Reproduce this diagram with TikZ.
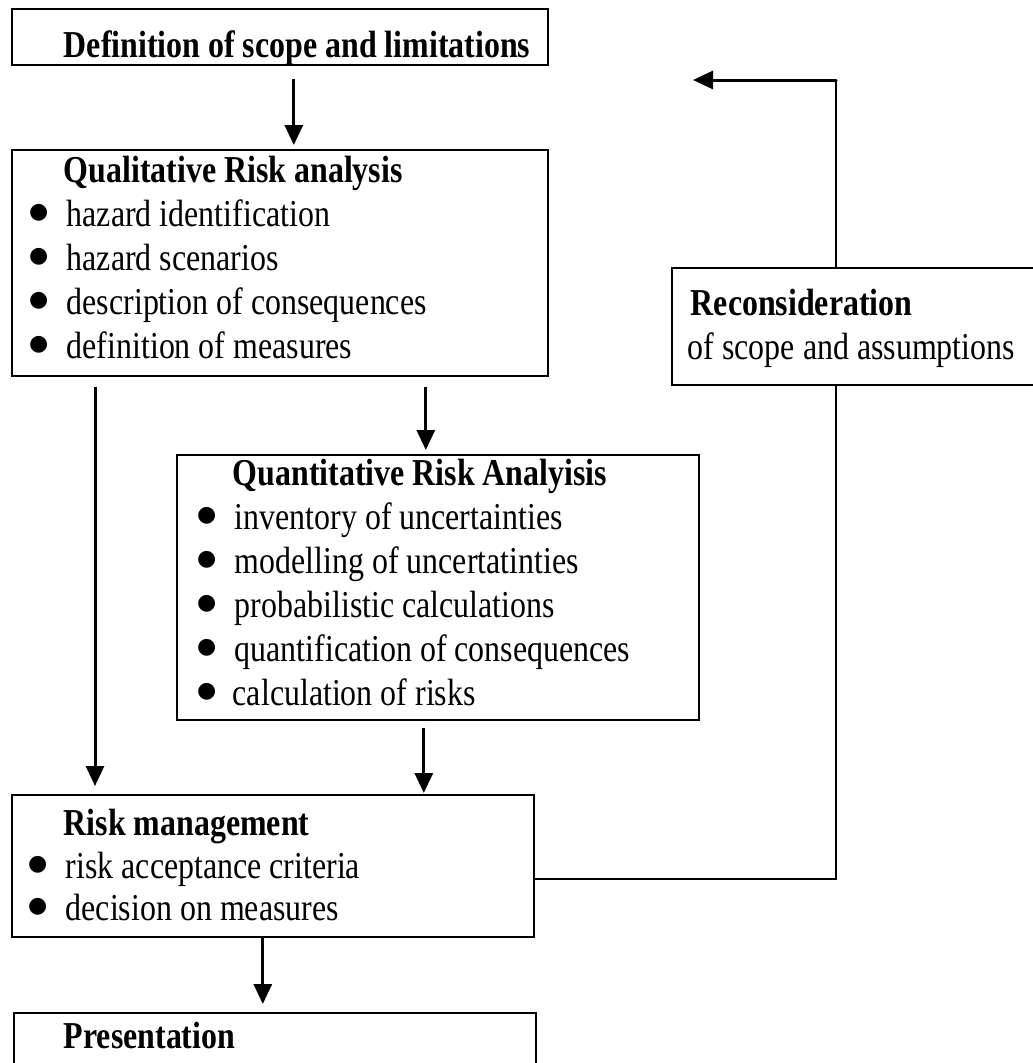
\documentclass[tikz,border=0pt]{standalone}
\usepackage{fontspec}
\setmainfont{Liberation Serif}[FakeStretch=0.84]
\newfontfamily\bulfont{DejaVu Sans}
\usetikzlibrary{arrows.meta,calc,positioning}
\newcommand{\boxfont}{\fontsize{38}{44}\selectfont}
\newcommand{\bul}{\makebox[0pt]{\raisebox{8pt}{\fontsize{22}{22}\bulfont ●}}}
\newcommand{\itm}[3]{\hspace*{#1}\bul\hspace*{\dimexpr#2-#1\relax}#3}
\tikzset{
	box/.style={draw,line width=1.6pt,anchor=north west,inner sep=0pt,align=left,
		execute at begin node={\spaceskip 8pt\relax}},
	arr/.style={line width=3pt,-{Triangle[length=20pt,width=18pt]}},
	link/.style={line width=1.8pt},
}
\begin{document}
\begin{tikzpicture}[x=1pt,y=-1pt,font=\boxfont]
\useasboundingbox (0,0) rectangle (1033,1063);
% boxes
\node[box,text width=536pt,text height=49pt,text depth=7pt] (def) at (11,8) {\hspace*{52pt}\textbf{Definition of scope and limitations}};
\node[box,text width=536pt,text height=33pt,text depth=193pt] (qual) at (11,149) {\hspace*{52pt}\textbf{Qualitative Risk analysis}\\
	\itm{27pt}{55pt}{hazard identification}\\
	\itm{27pt}{55pt}{hazard scenarios}\\
	\itm{27pt}{55pt}{description of consequences}\\
	\itm{27pt}{55pt}{definition of measures}};
\node[box,text width=522pt,text height=31pt,text depth=234pt] (quant) at (176,454) {\hspace*{56pt}\textbf{Quantitative Risk Analyisis}\\
	\itm{30pt}{58pt}{inventory of uncertainties}\\
	\itm{30pt}{58pt}{modelling of uncertatinties}\\
	\itm{30pt}{58pt}{probabilistic calculations}\\
	\itm{30pt}{58pt}{quantification of consequences}\\
	\itm{30pt}{56pt}{calculation of risks}};
\node[box,text width=365pt,text height=48pt,text depth=69pt] (recon) at (671,267) {\hspace*{19pt}\textbf{Reconsideration}\\
	\hspace*{16pt}of scope and assumptions};
\node[box,text width=522pt,text height=41pt,text depth=101pt] (risk) at (11,794) {\hspace*{52pt}\textbf{Risk management}\\[-1.5pt]
	\itm{26pt}{54pt}{risk acceptance criteria}\\[-1.5pt]
	\itm{26pt}{54pt}{decision on measures}};
\node[box,text width=522pt,text height=36pt,text depth=100pt] (pres) at (13,1012) {\hspace*{50pt}\textbf{Presentation}};
% arrows
\draw[arr,shorten <=13pt,shorten >=4pt] ([xshift=14pt]def.south) -- ([xshift=14pt]def.south |- qual.north);
\draw[arr,shorten <=10pt,shorten >=4pt] ([xshift=-12pt]quant.north |- qual.south) -- ([xshift=-12pt]quant.north);
\draw[arr,shorten <=10pt,shorten >=8pt] ([xshift=84pt]qual.south west) -- ([xshift=84pt]qual.south west |- risk.north);
\draw[arr,shorten <=7pt,shorten >=1pt] ([xshift=-14pt]quant.south) -- ([xshift=-14pt]quant.south |- risk.north);
\draw[arr,shorten >=8pt] ([xshift=-10pt]risk.south) -- ([xshift=-10pt]risk.south |- pres.north);
% feedback loop
\coordinate (corner) at (836,80);
\coordinate (back) at (693,80);
\draw[link] ([yshift=-13pt]risk.east) -| (corner |- recon.south);
\draw[link] (corner |- recon.north) -- (corner);
\draw[arr,line cap=round] (corner) -- (back);
\end{tikzpicture}
\end{document}
